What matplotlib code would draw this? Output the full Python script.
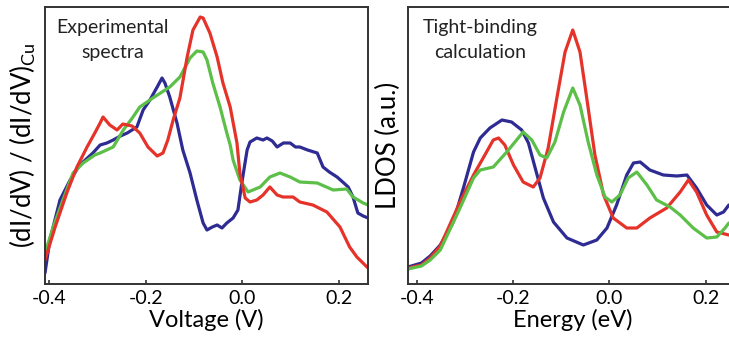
import numpy as np
import matplotlib
matplotlib.use('Agg')
import matplotlib.pyplot as plt

plt.rcParams['font.family'] = ['Lato', 'DejaVu Sans']

BLUE = '#2e2b92'
RED = '#e6332a'
GREEN = '#5cbf48'

# Experimental dI/dV spectra (normalised to Cu), arbitrary units
v_blue = [-0.408, -0.398, -0.377, -0.356, -0.336, -0.309, -0.294, -0.280, -0.267, -0.252, -0.238,
          -0.218, -0.205, -0.191, -0.176, -0.166, -0.160, -0.150, -0.135, -0.123, -0.108, -0.094,
          -0.081, -0.073, -0.062, -0.052, -0.042, -0.032, -0.019, -0.009, -0.001, 0.010, 0.016,
          0.030, 0.043, 0.051, 0.062, 0.072, 0.085, 0.099, 0.110, 0.119, 0.135, 0.155, 0.167,
          0.180, 0.196, 0.210, 0.219, 0.229, 0.239, 0.250, 0.260]
d_blue = [11, 44, 84, 104, 119, 131, 139, 141, 144, 148, 151,
          157, 174, 184, 197, 206, 201, 187, 161, 134, 111, 84,
          61, 54, 57, 59, 56, 61, 66, 74, 101, 134, 142,
          146, 144, 146, 143, 137, 141, 141, 137, 137, 134, 131, 117,
          112, 107, 101, 97, 87, 71, 68, 66]

v_red = [-0.408, -0.387, -0.363, -0.342, -0.321, -0.305, -0.294, -0.288, -0.274, -0.259, -0.247,
         -0.228, -0.212, -0.195, -0.176, -0.164, -0.154, -0.143, -0.129, -0.114, -0.102, -0.087,
         -0.081, -0.067, -0.052, -0.040, -0.025, -0.011, -0.005, 0.006, 0.016, 0.030, 0.043,
         0.057, 0.072, 0.084, 0.105, 0.119, 0.146, 0.175, 0.202, 0.222, 0.237, 0.260]
d_red = [24, 57, 91, 117, 137, 151, 161, 167, 159, 154, 160,
         158, 151, 137, 128, 131, 144, 164, 186, 227, 254, 267,
         266, 251, 227, 201, 177, 141, 111, 86, 82, 84, 89,
         97, 89, 87, 87, 82, 79, 72, 57, 37, 27, 16]

v_green = [-0.408, -0.391, -0.371, -0.350, -0.329, -0.305, -0.294, -0.267, -0.246, -0.226, -0.212,
           -0.185, -0.150, -0.129, -0.108, -0.094, -0.081, -0.073, -0.061, -0.046, -0.032, -0.025,
           -0.019, -0.005, 0.012, 0.037, 0.057, 0.078, 0.099, 0.119, 0.155, 0.188, 0.216, 0.229,
           0.250, 0.260]
d_green = [31, 57, 84, 111, 121, 129, 131, 137, 154, 167, 177,
           186, 197, 207, 226, 233, 232, 224, 201, 177, 151, 139,
           124, 104, 92, 97, 107, 111, 107, 102, 101, 94, 95, 87,
           81, 79]

# Tight-binding LDOS, arbitrary units
e_blue = [-0.418, -0.390, -0.372, -0.351, -0.324, -0.303, -0.282, -0.268, -0.248, -0.223, -0.203,
          -0.182, -0.168, -0.154, -0.137, -0.116, -0.088, -0.054, -0.026, -0.005, 0.015, 0.036,
          0.050, 0.064, 0.084, 0.112, 0.140, 0.161, 0.181, 0.202, 0.223, 0.237, 0.248]
l_blue = [17, 21, 28, 39, 62, 96, 132, 146, 156, 164, 162,
          154, 141, 116, 86, 62, 46, 39, 44, 56, 79, 109,
          121, 122, 114, 109, 108, 109, 96, 79, 69, 72, 79]

e_red = [-0.418, -0.390, -0.372, -0.351, -0.310, -0.282, -0.262, -0.241, -0.230, -0.217, -0.199,
         -0.179, -0.158, -0.144, -0.127, -0.109, -0.092, -0.076, -0.061, -0.047, -0.030, -0.012,
         0.008, 0.036, 0.057, 0.084, 0.119, 0.147, 0.164, 0.181, 0.202, 0.223, 0.248]
l_red = [16, 19, 26, 38, 82, 109, 126, 144, 146, 139, 119,
         102, 97, 106, 136, 186, 232, 254, 232, 186, 129, 89,
         66, 56, 56, 66, 76, 92, 104, 92, 69, 52, 49]

e_green = [-0.418, -0.390, -0.372, -0.351, -0.310, -0.282, -0.268, -0.241, -0.213, -0.179, -0.161,
           -0.144, -0.130, -0.113, -0.095, -0.076, -0.061, -0.044, -0.026, -0.009, 0.005, 0.022,
           0.039, 0.057, 0.078, 0.098, 0.126, 0.147, 0.174, 0.202, 0.223, 0.240, 0.248]
l_green = [15, 18, 24, 34, 76, 106, 114, 117, 132, 152, 144,
           129, 126, 142, 172, 196, 179, 142, 109, 87, 82, 89,
           106, 112, 99, 84, 77, 69, 56, 46, 47, 56, 61]

xticks = [-0.4, -0.2, 0.0, 0.2]

fig = plt.figure(figsize=(7.29, 3.38), dpi=100)
ax1 = fig.add_axes([45 / 729, 54 / 338, 323 / 729, 277 / 338])
ax2 = fig.add_axes([408 / 729, 54 / 338, 330 / 729, 277 / 338])

lw = 2.3
kw = dict(lw=lw, solid_joinstyle='round', solid_capstyle='round')
ax1.plot(v_blue, d_blue, color=BLUE, **kw)
ax1.plot(v_green, d_green, color=GREEN, **kw)
ax1.plot(v_red, d_red, color=RED, **kw)

ax2.plot(e_blue, l_blue, color=BLUE, **kw)
ax2.plot(e_red, l_red, color=RED, **kw)
ax2.plot(e_green, l_green, color=GREEN, **kw)

ax1.set_xlim(-0.408, 0.26)
ax2.set_xlim(-0.418, 0.267)
for ax in (ax1, ax2):
    ax.set_ylim(0, 277)
    ax.set_yticks([])
    ax.set_xticks(xticks)
    ax.set_xticklabels([f'{t:.1f}' for t in xticks])
    ax.tick_params(axis='x', direction='in', length=3, width=1.2, color='#333333',
                   labelsize=14, pad=4)
    for s in ax.spines.values():
        s.set_color('#333333')
        s.set_linewidth(1.4)
ax2.spines['right'].set_visible(False)

ax1.set_xlabel('Voltage (V)', fontsize=17, labelpad=1.5)
ax2.set_xlabel('Energy (eV)', fontsize=17, labelpad=1.5)
ax1.set_ylabel(r'(dI/dV) / (dI/dV)$_{\mathregular{Cu}}$', fontsize=18.5, labelpad=5)
ax2.set_ylabel('LDOS (a.u.)', fontsize=18.5, labelpad=5)

ax1.text(0.21, 0.955, 'Experimental\nspectra', transform=ax1.transAxes, ha='center', va='top',
         fontsize=14, linespacing=1.55, color='#222222')
ax2.text(0.218, 0.955, 'Tight-binding\ncalculation', transform=ax2.transAxes, ha='center', va='top',
         fontsize=14, linespacing=1.55, color='#222222')

fig.savefig('out.png', dpi=100)
